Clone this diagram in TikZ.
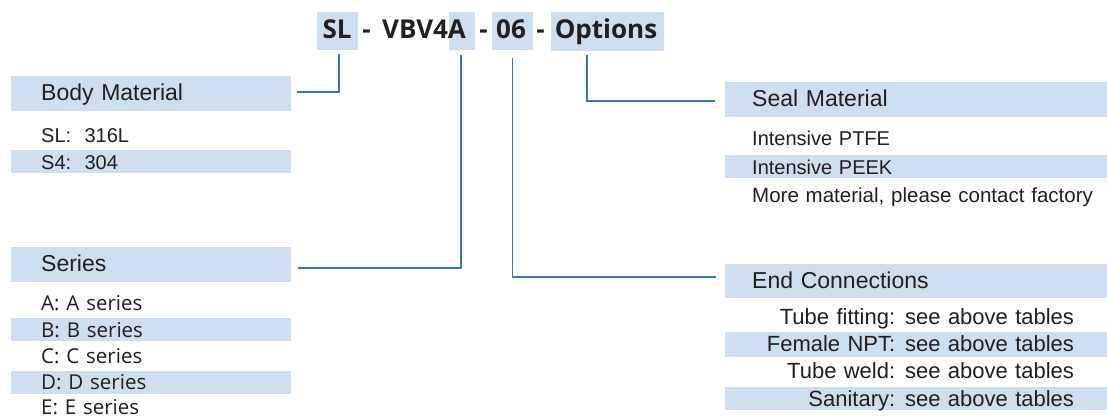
\documentclass[tikz,border=0pt]{standalone}
\usepackage{fontspec}
\setmainfont{Liberation Sans}
\newfontfamily\opensans{Open Sans}
\usepackage{xcolor}
\usepackage{tikz}
\usetikzlibrary{positioning, calc}
\definecolor{hlblue}{HTML}{CDDEEF}
\definecolor{linkblue}{HTML}{3C78B8}
\definecolor{inktext}{HTML}{231F20}
\tikzset{
  % Title code styles
  hilite/.style={rectangle, fill=hlblue, inner sep=0pt},
  code/.style={inner sep=0pt, anchor=base, text=inktext, font=\opensans\bfseries\fontsize{26}{30}\selectfont},
  % Header bars
  header/.style={rectangle, fill=hlblue, minimum height=35pt, inner ysep=0pt, align=left, text height=14pt, text depth=0pt, text=inktext, font=\fontsize{23}{26}\selectfont},
  lefthead/.style={header, text width=220pt, inner xsep=30pt, anchor=north west},
  righthead/.style={header, text width=328pt, inner xsep=27pt, anchor=north west},
  % Option rows
  entry/.style={rectangle, fill=#1, minimum height=23pt, inner ysep=0pt, align=left, text height=15pt, text depth=0pt, text=inktext, font=\fontsize{20}{24}\selectfont},
  entry/.default={white},
  leftentry/.style={entry=#1, text width=220pt, inner xsep=30pt},
  leftentry/.default={white},
  rightentry/.style={entry=#1, text width=328pt, inner xsep=27pt},
  rightentry/.default={white},
  serfont/.style={font=\opensans\fontsize{20.5}{24}\selectfont},
  connfont/.style={font=\fontsize{22}{24}\selectfont},
  link/.style={draw=linkblue, line width=1.6pt},
}
\newcommand{\connrow}[1]{\makebox[143pt][r]{#1}\hspace{10pt}see above tables}

\begin{document}
\begin{tikzpicture}[x=1pt, y=-1pt]
    \useasboundingbox (0,0) rectangle (1107,417);

    % Code highlights
    \node[hilite, minimum width=41pt, minimum height=38pt] (hl-sl) at (337.5,31) {};
    \node[hilite, minimum width=26pt, minimum height=38pt] (hl-a) at (462,31) {};
    \node[hilite, minimum width=41pt, minimum height=38pt] (hl-06) at (512.5,31) {};
    \node[hilite, minimum width=113pt, minimum height=39pt] (hl-opt) at (607.5,31.5) {};

    % Code text
    \node[code] (t-sl) at (337,39) {SL};
    \node[code] (dash1) at (366.5,39) {-};
    \node[code] (t-vbv) at (424,39) {VBV4A};
    \node[code] (dash2) at (483.5,39) {-};
    \node[code] (t-06) at (511,39) {06};
    \node[code] (dash3) at (540.5,39) {-};
    \node[code] (t-opt) at (606,39) {Options};

    % Body material
    \node[lefthead] (bodyhd) at (11,76) {Body Material};
    \node[leftentry, below=12pt of bodyhd] (body1) {SL:\ \ 316L};
    \node[leftentry=hlblue, below=3pt of body1] (body2) {S4:\ \ 304};

    % Series
    \node[lefthead] (serhd) at (11,247) {Series};
    \node[leftentry, below=9pt of serhd, serfont] (ser1) {A: A series};
    \node[leftentry=hlblue, below=3pt of ser1, serfont] (ser2) {B: B series};
    \node[leftentry, below=3pt of ser2, serfont] (ser3) {C: C series};
    \node[leftentry=hlblue, below=3pt of ser3, serfont] (ser4) {D: D series};
    \node[leftentry, below=1pt of ser4, serfont] (ser5) {E: E series};

    % Seal material
    \node[righthead] (sealhd) at (725,82) {Seal Material};
    \node[rightentry, below=9pt of sealhd] (seal1) {Intensive PTFE};
    \node[rightentry=hlblue, below=5pt of seal1] (seal2) {Intensive PEEK};
    \node[rightentry, below=5pt of seal2, font=\fontsize{20.5}{24}\selectfont] (seal3) {\mbox{More material, please contact factory}};

    % End connections
    \node[righthead, minimum height=34pt] (endhd) at (725,264) {End Connections};
    \node[rightentry, minimum height=25pt, below=5.5pt of endhd, connfont] (end1) {\connrow{Tube fitting:}};
    \node[rightentry=hlblue, minimum height=25pt, below=2pt of end1, connfont] (end2) {\connrow{Female NPT:}};
    \node[rightentry, minimum height=25pt, below=2pt of end2, connfont] (end3) {\connrow{Tube weld:}};
    \node[rightentry=hlblue, minimum height=23pt, below=3pt of end3, connfont] (end4) {\connrow{Sanitary:}};

    % Leader lines
    \draw[link] ([xshift=1.5pt, yshift=-4pt]hl-sl.south) |- ([xshift=6pt, yshift=1.5pt]bodyhd.east);
    \draw[link] ([xshift=-1pt, yshift=-5pt]hl-a.south) |- ([xshift=7pt, yshift=-3.5pt]serhd.east);
    \draw[link] ([yshift=-8pt]hl-06.south) |- ([xshift=-9pt, yshift=4.5pt]endhd.west);
    \draw[link] ([xshift=-20.5pt, yshift=-4pt]hl-opt.south) |- ([xshift=-10pt, yshift=-1.5pt]sealhd.west);
\end{tikzpicture}
\end{document}
